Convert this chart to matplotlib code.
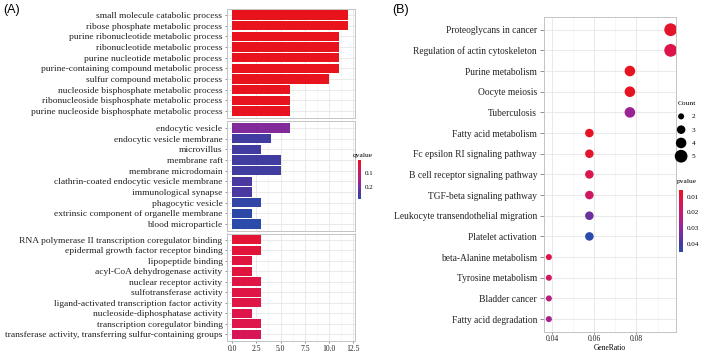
import numpy as np
import matplotlib
matplotlib.use('Agg')
import matplotlib.pyplot as plt
from matplotlib.colors import LinearSegmentedColormap, Normalize
from matplotlib.cm import ScalarMappable
from matplotlib.ticker import MultipleLocator

plt.rcParams['font.family'] = ['Liberation Serif', 'DejaVu Serif']

# ---- panel A data (GO enrichment, three facets) ----
bp_terms = ['small molecule catabolic process', 'ribose phosphate metabolic process',
            'purine ribonucleotide metabolic process', 'ribonucleotide metabolic process',
            'purine nucleotide metabolic process', 'purine-containing compound metabolic process',
            'sulfur compound metabolic process', 'nucleoside bisphosphate metabolic process',
            'ribonucleoside bisphosphate metabolic process', 'purine nucleoside bisphosphate metabolic process']
bp_counts = [12, 12, 11, 11, 11, 11, 10, 6, 6, 6]
bp_qvalue = [0.013, 0.013, 0.014, 0.014, 0.014, 0.014, 0.015, 0.016, 0.016, 0.016]

cc_terms = ['endocytic vesicle', 'endocytic vesicle membrane', 'microvillus', 'membrane raft',
            'membrane microdomain', 'clathrin-coated endocytic vesicle membrane',
            'immunological synapse', 'phagocytic vesicle',
            'extrinsic component of organelle membrane', 'blood microparticle']
cc_counts = [6, 4, 3, 5, 5, 2, 2, 3, 2, 3]
cc_qvalue = [0.19, 0.25, 0.25, 0.25, 0.25, 0.24, 0.24, 0.27, 0.275, 0.28]

mf_terms = ['RNA polymerase II transcription coregulator binding',
            'epidermal growth factor receptor binding', 'lipopeptide binding',
            'acyl-CoA dehydrogenase activity', 'nuclear receptor activity',
            'sulfotransferase activity', 'ligand-activated transcription factor activity',
            'nucleoside-diphosphatase activity', 'transcription coregulator binding',
            'transferase activity, transferring sulfur-containing groups']
mf_counts = [3, 3, 2, 2, 3, 3, 3, 2, 3, 3]
mf_qvalue = [0.035, 0.04, 0.045, 0.045, 0.05, 0.05, 0.05, 0.055, 0.055, 0.07]

q_ticks = [0.1, 0.2]
q_range = (0.012, 0.28)

# ---- panel B data (KEGG dot plot) ----
kegg_terms = ['Proteoglycans in cancer', 'Regulation of actin cytoskeleton', 'Purine metabolism',
              'Oocyte meiosis', 'Tuberculosis', 'Fatty acid metabolism',
              'Fc epsilon RI signaling pathway', 'B cell receptor signaling pathway',
              'TGF-beta signaling pathway', 'Leukocyte transendothelial migration',
              'Platelet activation', 'beta-Alanine metabolism', 'Tyrosine metabolism',
              'Bladder cancer', 'Fatty acid degradation']
kegg_ratio = [0.0962, 0.0962, 0.0769, 0.0769, 0.0769, 0.0577, 0.0577, 0.0577, 0.0577,
              0.0577, 0.0577, 0.0385, 0.0385, 0.0385, 0.0385]
kegg_count = [5, 5, 4, 4, 4, 3, 3, 3, 3, 3, 3, 2, 2, 2, 2]
kegg_pvalue = [0.008, 0.012, 0.0065, 0.0065, 0.028, 0.007, 0.008, 0.013, 0.017,
               0.035, 0.045, 0.012, 0.016, 0.022, 0.026]

p_ticks = [0.01, 0.02, 0.03, 0.04]
p_range = (0.0057, 0.045)
count_levels = [2, 3, 4, 5]

# red -> blue gradient as it looks in the picture
cmap = LinearSegmentedColormap.from_list('rb', [
    (0.0, '#E8131B'), (0.15, '#DE1548'), (0.35, '#C81A70'), (0.55, '#A02394'),
    (0.75, '#6A319E'), (0.9, '#3E3DA0'), (1.0, '#2A4BAA')])

W, H = 702, 356
fig = plt.figure(figsize=(W / 100, H / 100), dpi=100)


def box(x0, y0, x1, y1):
    return [x0 / W, 1 - y1 / H, (x1 - x0) / W, (y1 - y0) / H]


def style(ax):
    for s in ax.spines.values():
        s.set_color('#C4C4C4')
        s.set_linewidth(0.7)
    ax.set_axisbelow(True)
    ax.grid(True, which='major', color='#E6E6E6', linewidth=0.6)
    ax.grid(True, which='minor', color='#F2F2F2', linewidth=0.4)
    ax.tick_params(axis='both', which='major', length=2, width=0.5, color='#666666',
                   pad=2, labelcolor='#222222')
    ax.tick_params(axis='both', which='minor', length=0)


# ---- panel A ----
qnorm = Normalize(*q_range)
facets = [(bp_terms, bp_counts, bp_qvalue, (8.7, 117.5)),
          (cc_terms, cc_counts, cc_qvalue, (121.5, 230.5)),
          (mf_terms, mf_counts, mf_qvalue, (233.5, 340.5))]
for i, (terms, counts, qv, (top, bot)) in enumerate(facets):
    ax = fig.add_axes(box(227.3, top, 355.2, bot))
    y = np.arange(len(terms))[::-1]
    ax.barh(y, counts, height=0.88, color=cmap(qnorm(qv)), edgecolor='none')
    ax.set_ylim(-0.6, len(terms) - 0.4)
    ax.set_yticks(y)
    ax.set_yticklabels(terms, fontsize=6.8)
    ax.set_xlim(-0.5, 12.7)
    ax.set_xticks([0, 2.5, 5, 7.5, 10, 12.5])
    ax.xaxis.set_minor_locator(MultipleLocator(1.25))
    style(ax)
    ax.tick_params(axis='y', length=1.5)
    if i < 2:
        ax.tick_params(axis='x', labelbottom=False, length=0)
    else:
        ax.set_xticklabels(['0.0', '2.5', '5.0', '7.5', '10.0', '12.5'], fontsize=5.5)
        ax.tick_params(axis='x', length=1.5, pad=2)

cax = fig.add_axes(box(358, 160, 361.5, 199))
cb = fig.colorbar(ScalarMappable(norm=qnorm, cmap=cmap), cax=cax, ticks=q_ticks)
cb.outline.set_visible(False)
cax.invert_yaxis()
cax.tick_params(length=0, pad=2.5, labelsize=5)
cax.set_yticklabels(['0.1', '0.2'])
fig.text(353 / W, 1 - 155 / H, 'qvalue', fontsize=5.4, va='center', ha='left')

fig.text(3 / W, 1 - 10 / H, '(A)', fontsize=9, family='Liberation Sans', va='center', ha='left')
fig.text(392 / W, 1 - 10 / H, '(B)', fontsize=9, family='Liberation Sans', va='center', ha='left')

# ---- panel B ----
pnorm = Normalize(*p_range)
size_map = {2: 19, 3: 38, 4: 58, 5: 84}
axb = fig.add_axes(box(544, 17.3, 675.7, 331.5))
yb = np.arange(len(kegg_terms))[::-1]
axb.scatter(kegg_ratio, yb, s=[size_map[c] for c in kegg_count], c=kegg_pvalue,
            cmap=cmap, norm=pnorm, edgecolors='none', zorder=3)
axb.set_ylim(-0.6, len(kegg_terms) - 0.4)
axb.set_yticks(yb)
axb.set_yticklabels(kegg_terms, fontsize=6.85)
axb.set_xlim(0.0362, 0.0986)
axb.set_xticks([0.04, 0.06, 0.08])
axb.set_xticklabels(['0.04', '0.06', '0.08'], fontsize=5.5)
axb.xaxis.set_minor_locator(MultipleLocator(0.01))
style(axb)
axb.tick_params(axis='y', length=3, pad=2)
axb.tick_params(axis='x', length=1.5, pad=1)
axb.set_xlabel('GeneRatio', fontsize=5.5, labelpad=1)

handles = [axb.scatter([], [], s=size_map[c], color='black', edgecolors='none')
           for c in count_levels]
leg = fig.legend(handles, [str(c) for c in count_levels], title='Count',
                 loc='upper left', bbox_to_anchor=(677.5 / W, 1 - 101 / H),
                 frameon=False, fontsize=5.2, title_fontsize=5.4, scatterpoints=1,
                 handlelength=1.0, handletextpad=1.0, borderpad=0, borderaxespad=0,
                 labelspacing=1.0, alignment='left')

pax = fig.add_axes(box(679.3, 190, 682.8, 251.7))
cb2 = fig.colorbar(ScalarMappable(norm=pnorm, cmap=cmap), cax=pax, ticks=p_ticks)
cb2.outline.set_visible(False)
pax.invert_yaxis()
pax.tick_params(length=0, pad=3, labelsize=5)
pax.set_yticklabels(['0.01', '0.02', '0.03', '0.04'])
fig.text(677.3 / W, 1 - 181 / H, 'pvalue', fontsize=5.4, va='center', ha='left')

fig.savefig('out.png', dpi=100)
